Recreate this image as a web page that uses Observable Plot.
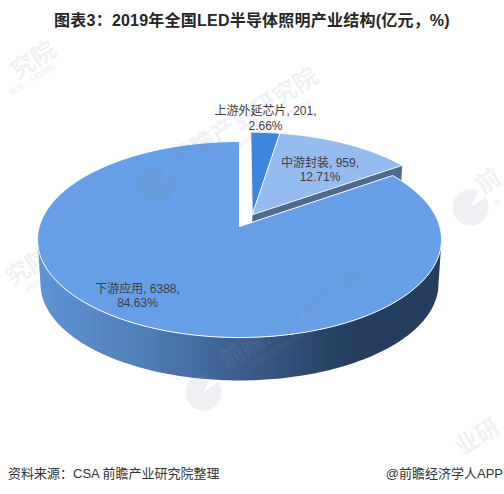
<!DOCTYPE html>
<html lang="zh">
<head>
<meta charset="utf-8">
<script src="https://cdn.jsdelivr.net/npm/d3@7"></script>
<script src="https://cdn.jsdelivr.net/npm/@observablehq/plot@0.6"></script>
<style>
  html, body { margin: 0; padding: 0; background: #fff; width: 504px; height: 494px; overflow: hidden; }
  #title { height: 34px; text-align: center; font: bold 16px/42px "Liberation Sans", "Noto Sans CJK SC", sans-serif; letter-spacing: 0.22px; color: #262626; white-space: nowrap; }
  #chart svg { display: block; }
  #foot { height: 40px; display: flex; justify-content: space-between; padding: 11px 1px 0 8px; box-sizing: border-box; font: 13px/18px "Liberation Sans", "Noto Sans CJK SC", sans-serif; color: #333; }
</style>
</head>
<body>
<div id="title">图表3：2019年全国LED半导体照明产业结构(亿元，%)</div>
<div id="chart"></div>
<div id="foot"><span>资料来源：CSA 前瞻产业研究院整理</span><span>@前瞻经济学人APP</span></div>
<script>
// Chart values
const names = ["上游外延芯片", "中游封装", "下游应用"];
const values = [201, 959, 6388];
const shares = ["2.66", "12.71", "84.63"];
const topColors = ["#3e85de", "#95bcef", "#669fe7"];
const wallColor = "#4f6a8f";
const wallStops = [[0, "#5e93d6"], [0.25, "#5180b8"], [0.5, "#3c5e8c"], [0.7, "#2a4568"], [0.8, "#253d5e"], [1, "#253d5e"]];
const pulledOut = [true, true, false];
const pullDistance = 0.14;
const labelNudge = [[5, -45], [9, -1], [-42, 14]];
// Faint publisher watermark pieces as seen on the page
const wmLogos = [[156, 185], [470, 207], [203, 392]];
const wmBig = [["前瞻产业研究院", 244, 118], ["前瞻产业研究院", 293, 318], ["究院", 33, 60], ["究院", 28, 267], ["前", 488, 181], ["业研", 477, 437]];
const wmSmall = [["中国产业咨询领导者 (投资：839599)", 256, 135], ["中国产业咨询领导者 (投资：839599)", 305, 332], ["投资：839599)", 32, 79], ["839599)", 38, 283], ["中", 497, 203]];

// View of the tilted disc: perspective and thickness
const persp = 0.1327, baseScale = 0.985, depth = 0.463, titleH = 34;
const cx = 239, cy = 226, ax = 200.2, ay = 96.3;
const project = (X, Y, base = false) => {
  const w = 1 + persp * Y, s = base ? baseScale : 1;
  return {u: s * X / w, v: s * Y / w - (base ? depth : 0)};
};
const pageToView = (x, y) => ({u: (x - cx) / ax, v: (cy - y) / ay});

const arcs = d3.pie().sort(null)(values);
const pulledArcs = arcs.filter((a, i) => pulledOut[i]);
const pullAngle = (d3.min(pulledArcs, (a) => a.startAngle) + d3.max(pulledArcs, (a) => a.endAngle)) / 2;
const slices = arcs.map((a, i) => {
  const mid = (a.startAngle + a.endAngle) / 2;
  const d = pulledOut[i] ? pullDistance : 0;
  const ox = d * Math.sin(pullAngle), oy = d * Math.cos(pullAngle);
  const n = Math.max(2, Math.ceil((a.endAngle - a.startAngle) * 60));
  const rim = d3.range(n + 1).map((k) => {
    const t = a.startAngle + (a.endAngle - a.startAngle) * k / n;
    return {t, X: ox + Math.sin(t), Y: oy + Math.cos(t)};
  });
  return {i, mid, ox, oy, rim};
});

const topFace = (s) => [{X: s.ox, Y: s.oy}, ...s.rim, {X: s.ox, Y: s.oy}].map((p) => project(p.X, p.Y));
const main = slices[2], middle = slices[1];

// Cut face of the pulled-out group, seen beside the big slice
const rimEnd = middle.rim[middle.rim.length - 1];
const cutFace = [
  project(middle.ox, middle.oy), project(rimEnd.X, rimEnd.Y),
  project(rimEnd.X, rimEnd.Y, true), project(middle.ox, middle.oy, true), project(middle.ox, middle.oy)
];

// Outer wall of the big slice: the part of the rim that faces the viewer
const frontRim = main.rim.filter((p) => Math.cos(p.t) <= -persp);
const wall = [
  ...frontRim.map((p) => project(p.X, p.Y)),
  ...frontRim.slice().reverse().map((p) => project(p.X, p.Y, true))
];
wall.push(wall[0]);

const labels = slices.map((s) => {
  const r = 0.6;
  const p = project(s.ox + r * Math.sin(s.mid), s.oy + r * Math.cos(s.mid));
  return {...p, text: `${names[s.i]}, ${values[s.i]},\n${shares[s.i]}%`, nudge: labelNudge[s.i]};
});

const wmFill = "#8a93ab", wmOpacity = 0.14, wmAngle = -32;
const wmFont = "'Noto Sans CJK SC'";
const wmRows = (rows) => rows.map(([text, x, y]) => ({text, ...pageToView(x, y)}));
// Round logo with a notch at its upper right
const logoShape = wmLogos.flatMap(([x, y], id) => {
  const steps = d3.range(0, 49).map((k) => 0.95 + k / 48 * (2 * Math.PI - 0.5));
  return [[x, y], ...steps.map((t) => [x + 18 * Math.sin(t), y - 18 * Math.cos(t)]), [x, y]]
    .map(([a, b]) => ({id, ...pageToView(a, b)}));
});

const chart = Plot.plot({
  width: 504,
  height: 420,
  margin: 0,
  style: {background: "transparent"},
  x: {domain: [-1, 1], range: [cx - ax, cx + ax], axis: null},
  y: {domain: [-1, 1], range: [cy + ay - titleH, cy - ay - titleH], axis: null},
  marks: [
    (index, {x}) => {
      const defs = d3.create("svg:defs");
      const g = defs.append("linearGradient").attr("id", "wall").attr("gradientUnits", "userSpaceOnUse")
        .attr("x1", x(-1.01)).attr("x2", x(1.01)).attr("y1", 0).attr("y2", 0);
      wallStops.forEach(([o, c]) => g.append("stop").attr("offset", o).attr("stop-color", c));
      return defs.node();
    },
    Plot.line(cutFace, {x: "u", y: "v", fill: wallColor, stroke: "none"}),
    Plot.line(topFace(slices[0]), {x: "u", y: "v", fill: topColors[0], stroke: "#fff", strokeWidth: 0.8}),
    Plot.line(topFace(slices[1]), {x: "u", y: "v", fill: topColors[1], stroke: "#fff", strokeWidth: 0.8}),
    Plot.line(wall, {x: "u", y: "v", fill: "url(#wall)", stroke: "none"}),
    Plot.line(topFace(slices[2]), {x: "u", y: "v", fill: topColors[2], stroke: "#fff", strokeWidth: 1}),
    Plot.line(logoShape, {x: "u", y: "v", z: "id", fill: wmFill, fillOpacity: wmOpacity, stroke: "none"}),
    Plot.text(wmRows(wmBig), {x: "u", y: "v", text: "text", rotate: wmAngle, fontSize: 24, letterSpacing: 2, fontWeight: "bold", fill: wmFill, fillOpacity: wmOpacity, fontFamily: wmFont}),
    Plot.text(wmRows(wmSmall), {x: "u", y: "v", text: "text", rotate: wmAngle, fontSize: 8, letterSpacing: 2.4, fill: wmFill, fillOpacity: wmOpacity + 0.06, fontFamily: wmFont}),
    ...labels.map((l) => Plot.text([l], {
      x: "u", y: "v", text: "text", dx: l.nudge[0], dy: l.nudge[1],
      fontSize: 12, lineHeight: 1.2, fill: "#404040",
      fontFamily: "'Liberation Sans','Noto Sans CJK SC',sans-serif"
    }))
  ]
});
document.getElementById("chart").append(chart);
</script>
</body>
</html>
